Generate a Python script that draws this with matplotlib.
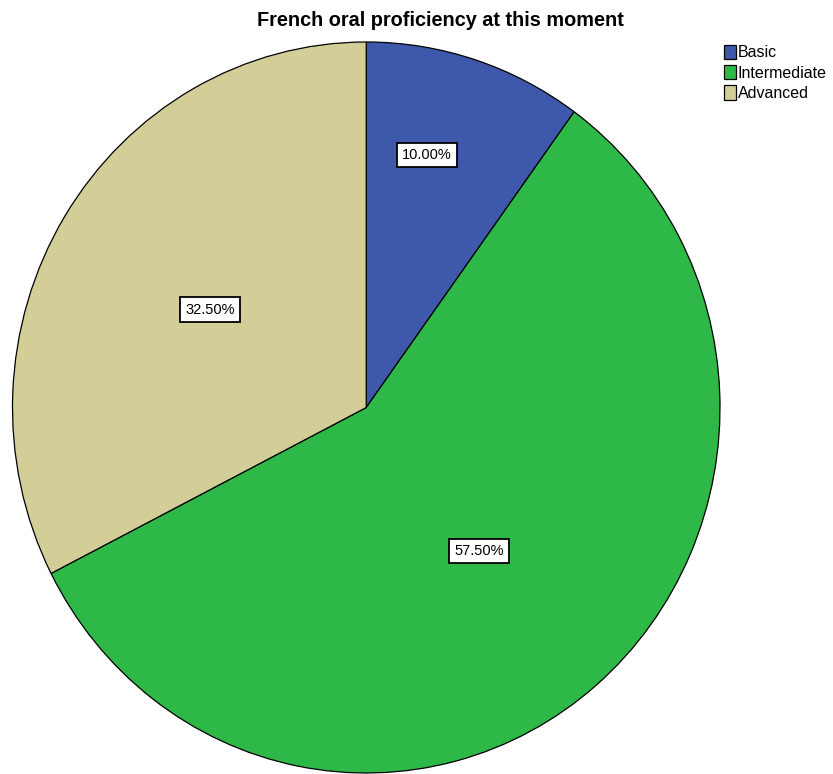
import matplotlib
matplotlib.use("Agg")
import matplotlib.pyplot as plt

plt.rcParams['font.family'] = ['Liberation Sans', 'DejaVu Sans']

levels = ['Basic', 'Intermediate', 'Advanced']
percents = [10.0, 57.5, 32.5]
colors = ['#3E58AC', '#2EB848', '#D3CE97']
# where each percentage box sits, in pie units (radius 1)
label_xy = [(0.172, 0.691), (0.319, -0.393), (-0.441, 0.268)]

W, H = 833, 774
fig = plt.figure(figsize=(W / 100, H / 100), dpi=100)

# pie is drawn slightly taller than wide, so the axes box is not square
left, right, top, bottom = 12.5, 720.0, 42.0, 773.0
ax = fig.add_axes([left / W, 1 - bottom / H, (right - left) / W, (bottom - top) / H])

wedges, _ = ax.pie(percents, colors=colors, startangle=90, counterclock=False,
                   radius=1.0, wedgeprops=dict(edgecolor='black', linewidth=0.9))
ax.set_aspect('auto')
ax.set_xlim(-1.0, 1.0)
ax.set_ylim(-1.0, 1.0)

for p, (x, y) in zip(percents, label_xy):
    ax.text(x, y, '{:.2f}%'.format(p), ha='center', va='center', fontsize=10.5,
            bbox=dict(boxstyle='square,pad=0.35', fc='white', ec='black', lw=1.3))

fig.text(440 / W, 1 - 21 / H, 'French oral proficiency at this moment',
         ha='center', va='center', fontsize=14.3, fontweight='bold')

fig.legend(wedges, levels, loc='upper left', bbox_to_anchor=(714 / W, 1 - 35 / H),
           frameon=False, fontsize=11.5, handlelength=0.75, handleheight=1.0,
           handletextpad=0.15, labelspacing=0.3, borderpad=0.1)

fig.savefig('out.png', dpi=100)
